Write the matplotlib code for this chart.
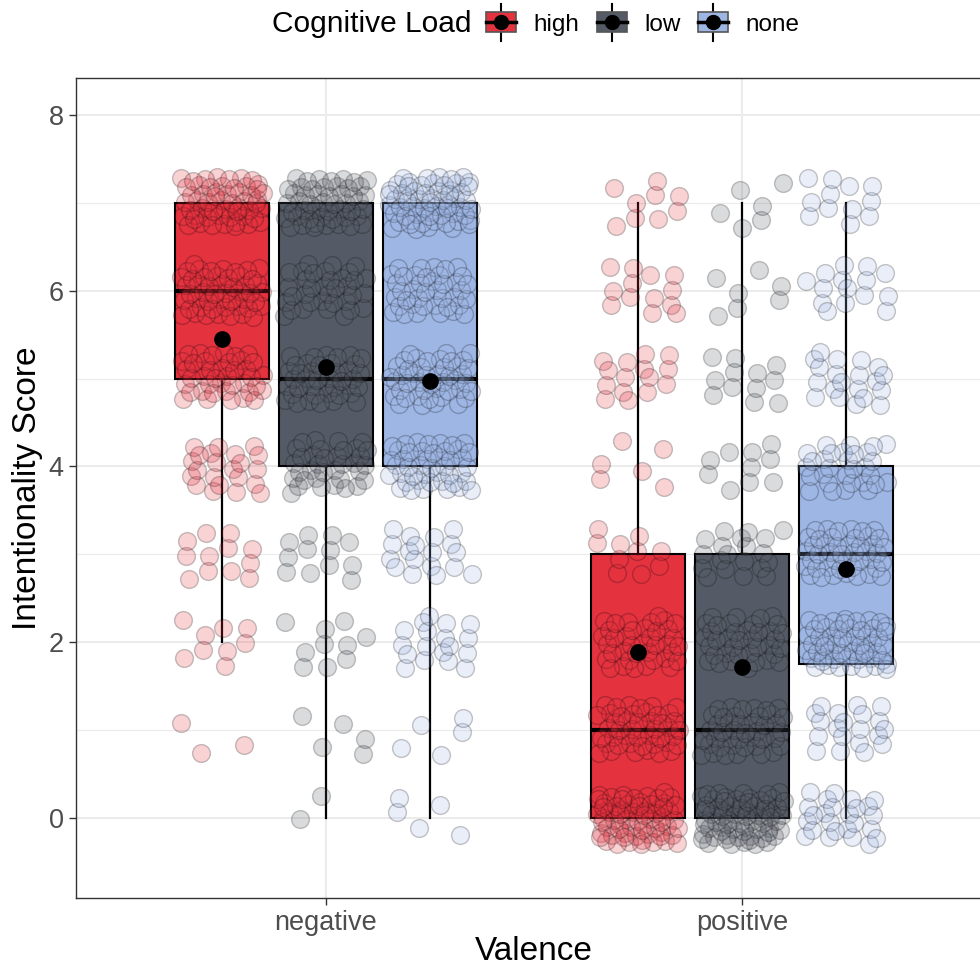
import numpy as np
import matplotlib
matplotlib.use("Agg")
import matplotlib.pyplot as plt
from matplotlib.legend_handler import HandlerBase
from matplotlib.patches import Rectangle, Patch
from matplotlib.lines import Line2D

plt.rcParams['font.family'] = ['Liberation Sans', 'DejaVu Sans']

# ---------------- data ----------------
valence = ["negative", "positive"]
loads = ["high", "low", "none"]
colors = {"high": "#E4323F", "low": "#555B66", "none": "#9EB6E4"}
scores = [0, 1, 2, 3, 4, 5, 6, 7]

# counts of responses at each score (0..7), per valence/load
counts_neg_high = [0, 3, 9, 12, 22, 40, 50, 55]
counts_neg_low = [2, 5, 10, 12, 35, 40, 35, 50]
counts_neg_none = [5, 5, 18, 18, 45, 45, 40, 62]
counts_pos_high = [65, 45, 38, 10, 6, 15, 13, 9]
counts_pos_low = [70, 42, 38, 20, 10, 12, 7, 6]
counts_pos_none = [25, 20, 55, 45, 30, 20, 15, 12]

# box statistics (order: neg-high, neg-low, neg-none, pos-high, pos-low, pos-none)
q1 = [5, 4, 4, 0, 0, 1.75]
med = [6, 5, 5, 1, 1, 3]
q3 = [7, 7, 7, 3, 3, 4]
whislo = [2, 0, 0, 0, 0, 0]
whishi = [7, 7, 7, 7, 7, 7]
means = [5.45, 5.13, 4.97, 1.89, 1.72, 2.83]

counts = [counts_neg_high, counts_neg_low, counts_neg_none,
          counts_pos_high, counts_pos_low, counts_pos_none]

# ---------------- figure ----------------
W, H = 980, 969
fig = plt.figure(figsize=(W / 100, H / 100), dpi=100)
ax = fig.add_axes([76 / W, 1 - 898 / H, (992 - 76) / W, (898 - 78) / H])

dodge = 0.25
bw = 0.225
groups = [(v, l) for v in valence for l in loads]
positions = []
for i, (v, l) in enumerate(groups):
    positions.append(valence.index(v) + 1 + (loads.index(l) - 1) * dodge)

# boxes
stats = []
for i in range(6):
    stats.append(dict(q1=q1[i], med=med[i], q3=q3[i], whislo=whislo[i],
                      whishi=whishi[i], mean=means[i], fliers=[]))
bp = ax.bxp(stats, positions=positions, widths=bw, patch_artist=True,
            showcaps=False, showfliers=False, showmeans=False, manage_ticks=False,
            boxprops=dict(edgecolor='black', linewidth=1.5),
            medianprops=dict(color='black', linewidth=3, solid_capstyle='butt'),
            whiskerprops=dict(color='black', linewidth=1.6), zorder=2)
for patch, (v, l) in zip(bp['boxes'], groups):
    patch.set_facecolor(colors[l])

# jittered points (deterministic low-discrepancy offsets)
g = 1.32471795724474602596
a1, a2 = 1 / g, 1 / g ** 2
n_global = 0
for i, (v, l) in enumerate(groups):
    xs, ys = [], []
    for s, c in zip(scores, counts[i]):
        for k in range(c):
            n_global += 1
            u = (0.5 + a1 * n_global) % 1
            w = (0.5 + a2 * n_global) % 1
            xs.append(positions[i] + (u - 0.5) * 0.2)
            ys.append(s + (w - 0.5) * 0.6)
    ax.scatter(xs, ys, s=165, c=colors[l], edgecolors='black', linewidths=1.0,
               alpha=0.22, zorder=3)

# means
ax.plot(positions, means, 'o', color='black', ms=11, ls='none', zorder=5)

# grid & ticks
ax.set_axisbelow(True)
ax.set_yticks([0, 2, 4, 6, 8])
ax.set_yticks([1, 3, 5, 7], minor=True)
ax.set_xticks([1, 2])
ax.set_xticklabels(valence)
ax.grid(which='major', color='#EBEBEB', lw=1.4)
ax.grid(which='minor', axis='y', color='#EBEBEB', lw=0.8)

ax.set_xlim(0.4, 2.6)
ax.set_ylim(-0.91, 8.42)
for sp in ax.spines.values():
    sp.set_color('#333333')
    sp.set_linewidth(1.0)
ax.tick_params(which='major', length=5, width=1, color='#333333',
               labelsize=19.5, labelcolor='#4D4D4D', pad=4)
ax.tick_params(which='minor', length=0)
ax.set_xlabel("Valence", fontsize=24, labelpad=0)
ax.set_ylabel("Intentionality Score", fontsize=24, labelpad=4)


# legend
class BoxHandler(HandlerBase):
    def create_artists(self, legend, orig_handle, xdescent, ydescent, width,
                       height, fontsize, trans):
        x0, y0 = -xdescent, -ydescent
        fc = orig_handle.get_facecolor()
        whisk = Line2D([x0 + width / 2] * 2, [y0 - 0.45 * height, y0 + 1.45 * height],
                       color='black', lw=1.5)
        rect = Rectangle((x0, y0), width, height, facecolor=fc,
                         edgecolor='#555555', lw=1.2)
        medl = Line2D([x0, x0 + width], [y0 + height / 2] * 2, color='black', lw=2.5)
        dot = Line2D([x0 + width / 2], [y0 + height / 2], marker='o', ms=10,
                     color='black', ls='none')
        arts = [whisk, rect, medl, dot]
        for a in arts:
            a.set_transform(trans)
        return arts


handles = [Patch(facecolor=colors[l]) for l in loads]
fs = 17.5
fig.legend(handles, loads, handler_map={Patch: BoxHandler()},
           loc='center left', bbox_to_anchor=(486 / W, 1 - 24 / H),
           ncol=3, frameon=False, fontsize=fs, borderpad=0, borderaxespad=0,
           handlelength=1.25, handleheight=0.85,
           handletextpad=0.7, columnspacing=0.72)
fig.text(272 / W, 1 - 24 / H, "Cognitive Load", fontsize=21.5, va='center', ha='left')

fig.savefig("out.png", dpi=100)
